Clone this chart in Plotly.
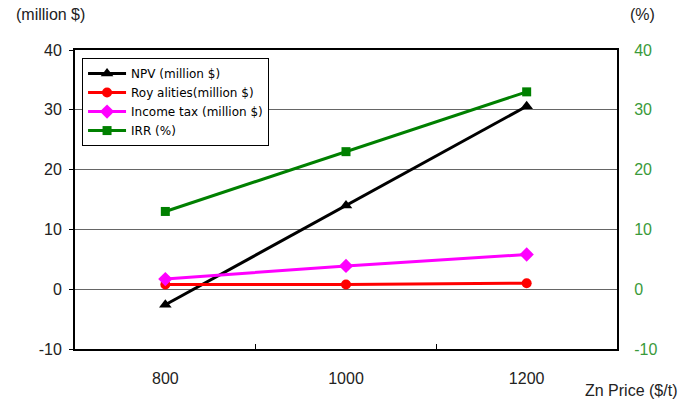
import plotly.graph_objects as go

categories = ["800", "1000", "1200"]
npv = [-2.6, 14.0, 30.6]
royalties = [0.8, 0.8, 1.0]
income_tax = [1.7, 3.9, 5.8]
irr = [13.0, 23.0, 33.0]
y_ticks = [-10, 0, 10, 20, 30, 40]
y_tick_text = ["-10", "0", "10", "20", "30", "40"]

FONT = "Liberation Sans, Arial, sans-serif"

fig = go.Figure()
fig.add_trace(go.Scatter(x=categories, y=npv, name="NPV (million $)", mode="lines+markers",
                         line=dict(color="black", width=3),
                         marker=dict(symbol="triangle-up", size=11, color="black")))
fig.add_trace(go.Scatter(x=categories, y=royalties, name="Roy alities(million $)", mode="lines+markers",
                         line=dict(color="#ff0000", width=3),
                         marker=dict(symbol="circle", size=10, color="#ff0000")))
fig.add_trace(go.Scatter(x=categories, y=income_tax, name="Income tax (million $)", mode="lines+markers",
                         line=dict(color="#ff00ff", width=3),
                         marker=dict(symbol="diamond", size=11, color="#ff00ff")))
fig.add_trace(go.Scatter(x=categories, y=irr, name="IRR (%)", mode="lines+markers", yaxis="y2",
                         line=dict(color="#008000", width=3),
                         marker=dict(symbol="square", size=9, color="#008000")))

pw = 683 - 75 - 66
ph = 403 - 50 - 54


def px2paper(px, py):
    return (px - 75) / pw, (403 - 54 - py) / ph


ann_specs = [("(million $)", 14, 14, "left"), ("(%)", 642, 14, "center"), ("Zn Price ($/t)", 631, 390, "center")]
anns = []
for text, px, py, anchor in ann_specs:
    x, y = px2paper(px, py)
    anns.append(dict(text=text, x=x, y=y, xref="paper", yref="paper",
                     xanchor=anchor, yanchor="middle", showarrow=False,
                     font=dict(size=16, color="#222")))

fig.update_layout(
    width=683, height=403,
    margin=dict(l=75, r=66, t=50, b=54),
    paper_bgcolor="white", plot_bgcolor="white",
    font=dict(family=FONT, size=16, color="#222"),
    showlegend=True,
    legend=dict(x=0.013, y=0.973, xanchor="left", yanchor="top",
                bgcolor="white", bordercolor="black", borderwidth=1,
                font=dict(size=12, color="black", family="DejaVu Sans, sans-serif"),
                tracegroupgap=0, itemwidth=38),
    xaxis=dict(type="category", range=[-0.5, 2.5], showgrid=False,
               showline=True, linecolor="black", linewidth=2, mirror=True,
               ticks="inside", ticklen=5, tickcolor="black", tickson="boundaries",
               ticklabelstandoff=14, tickfont=dict(size=16, color="#222")),
    yaxis=dict(range=[-10, 40], tickvals=y_ticks, ticktext=y_tick_text,
               showgrid=True, gridcolor="#666666", gridwidth=1,
               zeroline=True, zerolinecolor="#666666", zerolinewidth=1,
               showline=True, linecolor="black", linewidth=2,
               ticks="outside", ticklen=4, tickcolor="black",
               ticklabelstandoff=4, tickfont=dict(size=16, color="#222")),
    yaxis2=dict(range=[-10, 40], tickvals=y_ticks, ticktext=y_tick_text,
                overlaying="y", side="right",
                showgrid=False, zeroline=False,
                showline=True, linecolor="black", linewidth=2,
                ticks="", ticklabelstandoff=12,
                tickfont=dict(size=16, color="#3a9a3a")),
    annotations=anns,
)

fig.write_html("out.html")
